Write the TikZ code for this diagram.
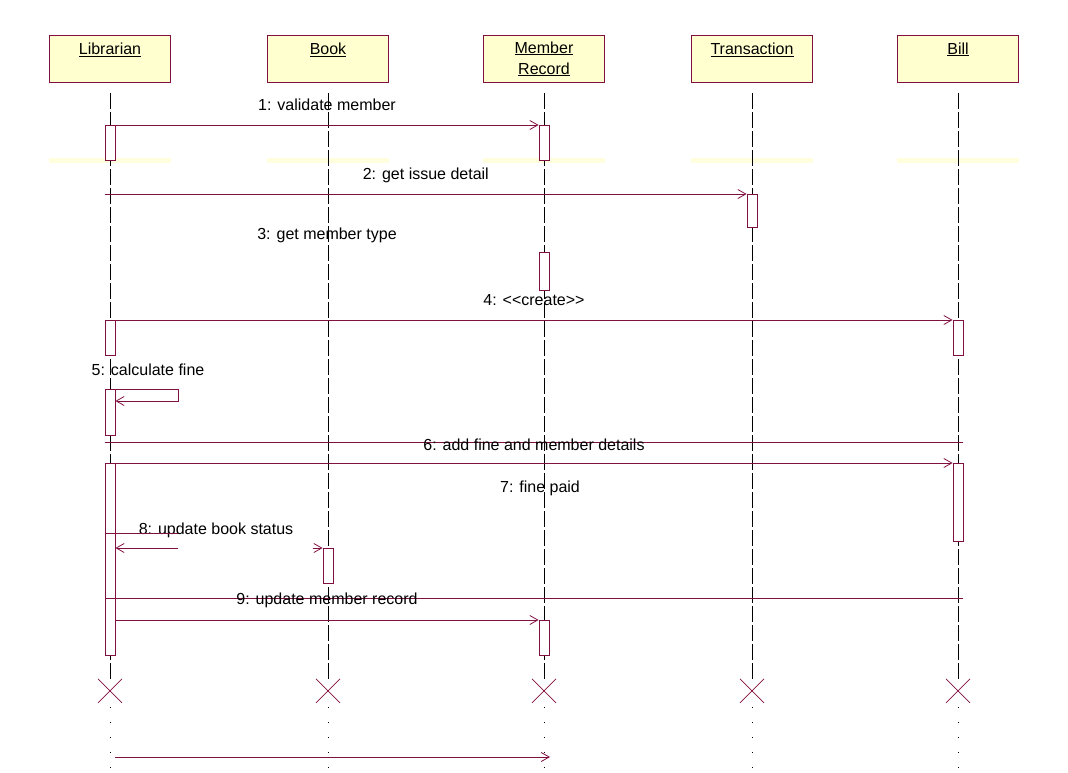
\documentclass[tikz,border=0pt]{standalone}
\usepackage{fontspec}
\setmainfont{Liberation Sans}
\usetikzlibrary{arrows.meta}
\definecolor{rosered}{RGB}{128,16,64}
\definecolor{hdrfill}{RGB}{255,255,208}
\tikzset{
    hdr/.style={draw=rosered, fill=hdrfill, line width=0.8pt, minimum width=121pt, minimum height=47pt,
        inner sep=0pt, anchor=north, align=center, font=\fontsize{16}{21}\selectfont},
    act/.style={draw=rosered, fill=white, line width=0.8pt, minimum width=10pt, inner sep=0pt, anchor=north},
    msg/.style={draw=rosered, line width=0.8pt, ->},
    life/.style={draw=black, line width=0.7pt, dash pattern=on 16pt off 3pt},
    kill/.style={draw=rosered, line width=0.7pt},
    lbl/.style={font=\fontsize{16}{18}\selectfont, inner sep=0pt}
}
\begin{document}
\begin{tikzpicture}[x=1pt, y=-1pt, >={Straight Barb[length=8pt,width=9pt]}]
    \useasboundingbox (0,0) rectangle (1068,772);
    %Objects
    \node[hdr] (lib) at (110,35) {\underline{Librarian}\\~};
    \node[hdr] (book) at (328,35) {\underline{Book}\\~};
    \node[hdr] (mem) at (544,35) {\underline{Member}\\\underline{Record}};
    \node[hdr] (trans) at (752,35) {\underline{Transaction}\\~};
    \node[hdr] (bill) at (958,35) {\underline{Bill}\\~};
    \foreach \n in {lib,book,mem,trans,bill} {
        \fill[hdrfill!70] ([yshift=-75pt]\n.south west) rectangle ([yshift=-80pt]\n.south east);
        \draw[life] ([yshift=-10pt]\n.south) -- ([yshift=-596pt]\n.south);
        \path ([yshift=-608pt]\n.south) coordinate (\n X);
        \draw[kill] ([shift={(-12pt,12pt)}]\n X) -- ([shift={(12pt,-12pt)}]\n X);
        \draw[kill] ([shift={(-12pt,-12pt)}]\n X) -- ([shift={(12pt,12pt)}]\n X);
        \draw[black, dash pattern=on 1pt off 14pt] ([yshift=-16pt]\n X) -- ([yshift=-80pt]\n X);
    }
    %Activations
    \node[act, minimum height=35pt] (libA1) at (110,125) {};
    \node[act, minimum height=35pt] (libA2) at (110,320) {};
    \node[act, minimum height=46pt] (libA3) at (110,389) {};
    \node[act, minimum height=192pt] (libA4) at (110,463) {};
    \node[act, minimum height=35pt] (memA1) at (544,125) {};
    \node[act, minimum height=38pt] (memA2) at (544,252) {};
    \node[act, minimum height=35pt] (memA3) at (544,620) {};
    \node[act, minimum height=33pt] (transA1) at (752,194) {};
    \node[act, minimum height=35pt] (billA1) at (958,320) {};
    \node[act, minimum height=78pt] (billA2) at (958,463) {};
    \node[act, minimum height=35pt] (bookA1) at (328,548) {};
    \coordinate (lib2) at (105,194);
    \coordinate (g6a) at (105,442);
    \coordinate (g6b) at (963,442);
    \coordinate (g9a) at (105,598);
    \coordinate (g9b) at (963,598);
    \coordinate (g0a) at (115,757);
    \coordinate (g0b) at (550,757);
    %Messages
    \draw[msg] (libA1.north east) -- (memA1.north west) node[lbl, midway, yshift=20pt] {1: validate member};
    \draw[msg] (lib2) -- (transA1.north west) node[lbl, midway, yshift=19pt] {2: get issue detail};
    \node[lbl] (lbl3) at (327,235) {3: get member type};
    \draw[msg] (libA2.north east) -- (billA1.north west) node[lbl, midway, yshift=20pt] {4: {<}{<}create{>}{>}};
    \node[lbl] (lbl5) at (148,370) {5: calculate fine};
    \draw[msg] (libA3.north east) -- ++(63,0) -- ++(0,12) -- ([yshift=-12pt]libA3.north east);
    \draw[rosered, line width=0.8pt] (g6a) -- (g6b);
    \draw[msg] (libA4.north east) -- (billA2.north west) node[lbl, midway, yshift=18pt] {6: add fine and member details};
    \node[lbl] (lbl7) at (540,488) {7: fine paid};
    \node[lbl] (lbl8) at (216,530) {8: update book status};
    \draw[rosered, line width=0.8pt] ([yshift=-70pt]libA4.north west) -- ++(73,0);
    \draw[msg] ([shift={(63pt,-85pt)}]libA4.north east) -- ([yshift=-85pt]libA4.north east);
    \draw[msg] ([xshift=-10pt]bookA1.north west) -- (bookA1.north west);
    \draw[rosered, line width=0.8pt] (g9a) -- (g9b);
    \draw[msg] ([yshift=-157pt]libA4.north east) -- (memA3.north west) node[lbl, midway, yshift=20pt] {9: update member record};
    \draw[msg] (g0a) -- (g0b);
\end{tikzpicture}
\end{document}
